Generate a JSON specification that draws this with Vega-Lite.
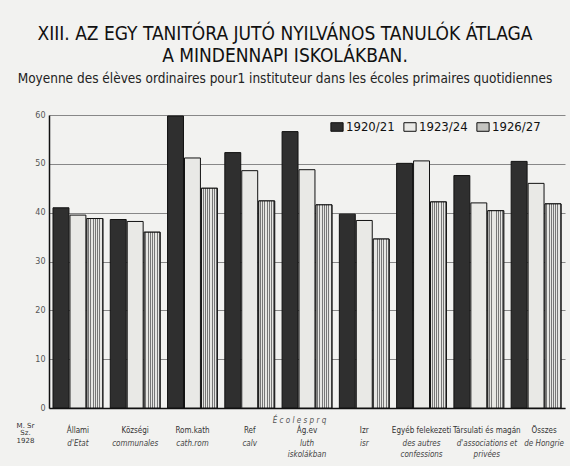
{
  "$schema": "https://vega.github.io/schema/vega-lite/v6.json",
  "autosize": "none",
  "width": 516,
  "height": 293,
  "padding": {"left": 49, "top": 115, "right": 5, "bottom": 58},
  "background": "#f2f2f0",
  "title": {
    "text": ["XIII. AZ EGY TANITÓRA JUTÓ NYILVÁNOS TANULÓK ÁTLAGA", "A MINDENNAPI ISKOLÁKBAN."],
    "subtitle": "Moyenne des élèves ordinaires pour1 instituteur dans les écoles primaires quotidiennes",
    "anchor": "middle",
    "dx": -22,
    "offset": 26,
    "font": "'DejaVu Sans Condensed', Roboto, sans-serif",
    "fontSize": 19,
    "fontWeight": "normal",
    "lineHeight": 22,
    "color": "#111",
    "subtitleFont": "'DejaVu Sans Condensed', Roboto, sans-serif",
    "subtitleFontSize": 13.5,
    "subtitleColor": "#222",
    "subtitlePadding": 6
  },
  "data": {
    "values": [
      {"school": "Állami", "year": "1920/21", "v": 41.0},
      {"school": "Állami", "year": "1923/24", "v": 39.5},
      {"school": "Állami", "year": "1926/27", "v": 38.8},
      {"school": "Községi", "year": "1920/21", "v": 38.6},
      {"school": "Községi", "year": "1923/24", "v": 38.2},
      {"school": "Községi", "year": "1926/27", "v": 36.0},
      {"school": "Rom.kath", "year": "1920/21", "v": 59.8},
      {"school": "Rom.kath", "year": "1923/24", "v": 51.2},
      {"school": "Rom.kath", "year": "1926/27", "v": 45.0},
      {"school": "Ref", "year": "1920/21", "v": 52.3},
      {"school": "Ref", "year": "1923/24", "v": 48.6},
      {"school": "Ref", "year": "1926/27", "v": 42.4},
      {"school": "Ág.ev", "year": "1920/21", "v": 56.6},
      {"school": "Ág.ev", "year": "1923/24", "v": 48.8},
      {"school": "Ág.ev", "year": "1926/27", "v": 41.6},
      {"school": "Izr", "year": "1920/21", "v": 39.7},
      {"school": "Izr", "year": "1923/24", "v": 38.4},
      {"school": "Izr", "year": "1926/27", "v": 34.6},
      {"school": "Egyéb felekezeti", "year": "1920/21", "v": 50.1},
      {"school": "Egyéb felekezeti", "year": "1923/24", "v": 50.6},
      {"school": "Egyéb felekezeti", "year": "1926/27", "v": 42.2},
      {"school": "Társulati és magán", "year": "1920/21", "v": 47.6},
      {"school": "Társulati és magán", "year": "1923/24", "v": 42.0},
      {"school": "Társulati és magán", "year": "1926/27", "v": 40.4},
      {"school": "Összes", "year": "1920/21", "v": 50.5},
      {"school": "Összes", "year": "1923/24", "v": 46.0},
      {"school": "Összes", "year": "1926/27", "v": 41.8}
    ]
  },
  "layer": [
    {
      "mark": {"type": "bar", "stroke": "#111", "strokeWidth": 1},
      "encoding": {
        "x": {
          "field": "school", "type": "nominal", "sort": null,
          "scale": {"paddingInner": 0.13, "paddingOuter": 0.07},
          "axis": {
            "orient": "bottom", "title": null, "labelAngle": 0,
            "labelFont": "'DejaVu Sans Condensed', Roboto, sans-serif", "labelFontSize": 8, "labelColor": "#333",
            "labelPadding": 18, "ticks": false,
            "labelOffset": {"condition": {"test": "datum.value === 'Társulati és magán' || datum.value === 'Összes'", "value": 8}, "value": 0},
            "domainColor": "#111", "domainWidth": 1.5, "labelLimit": 100
          }
        },
        "xOffset": {"field": "year", "type": "nominal", "scale": {"domain": ["1920/21", "1923/24", "1926/27"], "paddingInner": 0.06}},
        "y": {
          "field": "v", "type": "quantitative",
          "scale": {"domain": [0, 60], "nice": false},
          "axis": {
            "values": [0, 5, 10, 15, 20, 25, 30, 35, 40, 45, 50, 55, 60],
            "labelExpr": "datum.value % 10 === 0 ? datum.label : ''",
            "labelFont": "DejaVu Sans", "labelFontSize": 8, "labelColor": "#555",
            "labelPadding": 4, "ticks": false,
            "domainColor": "#111", "domainWidth": 1.5,
            "gridColor": "#888", "gridWidth": 1,
            "title": ["M. Sr", "Sz.", "1928"],
            "titleAngle": 0, "titleX": -24, "titleY": 306, "titleAlign": "center", "titleBaseline": "top",
            "titleFont": "DejaVu Sans", "titleFontSize": 7, "titleFontWeight": "normal", "titleColor": "#333",
            "titleLineHeight": 7.5
          }
        },
        "color": {
          "field": "year", "type": "nominal",
          "scale": {"domain": ["1920/21", "1923/24", "1926/27"], "range": ["#2f2f2f", "#e9e9e6", "#c4c4c0"]},
          "legend": {
            "title": null, "orient": "none", "legendX": 281, "legendY": 5, "direction": "horizontal",
            "symbolType": "M-1,-0.7H1V0.7H-1Z", "symbolSize": 150, "symbolStrokeColor": "#111", "symbolStrokeWidth": 1,
            "labelFont": "'DejaVu Sans Condensed', Roboto, sans-serif", "labelFontSize": 13, "labelColor": "#111",
            "columnPadding": 6, "labelOffset": 2
          }
        }
      }
    },
    {
      "transform": [{"filter": "datum.year === '1926/27'"}],
      "mark": {"type": "bar", "stroke": "#111", "strokeWidth": 1,
        "fill": {"gradient": "linear", "x1": 0, "y1": 0, "x2": 1, "y2": 0, "stops": [
          {"offset": 0, "color": "#e6e6e3"}, {"offset": 0.08, "color": "#e6e6e3"}, {"offset": 0.08, "color": "#777"}, {"offset": 0.14, "color": "#777"},
          {"offset": 0.14, "color": "#e6e6e3"}, {"offset": 0.22, "color": "#e6e6e3"}, {"offset": 0.22, "color": "#777"}, {"offset": 0.28, "color": "#777"},
          {"offset": 0.28, "color": "#e6e6e3"}, {"offset": 0.36, "color": "#e6e6e3"}, {"offset": 0.36, "color": "#777"}, {"offset": 0.42, "color": "#777"},
          {"offset": 0.42, "color": "#e6e6e3"}, {"offset": 0.50, "color": "#e6e6e3"}, {"offset": 0.50, "color": "#777"}, {"offset": 0.56, "color": "#777"},
          {"offset": 0.56, "color": "#e6e6e3"}, {"offset": 0.64, "color": "#e6e6e3"}, {"offset": 0.64, "color": "#777"}, {"offset": 0.70, "color": "#777"},
          {"offset": 0.70, "color": "#e6e6e3"}, {"offset": 0.78, "color": "#e6e6e3"}, {"offset": 0.78, "color": "#777"}, {"offset": 0.84, "color": "#777"},
          {"offset": 0.84, "color": "#e6e6e3"}, {"offset": 0.92, "color": "#e6e6e3"}, {"offset": 0.92, "color": "#777"}, {"offset": 0.98, "color": "#777"},
          {"offset": 0.98, "color": "#e6e6e3"}, {"offset": 1, "color": "#e6e6e3"}
        ]}},
      "encoding": {
        "x": {"field": "school", "type": "nominal", "sort": null, "axis": null},
        "xOffset": {"field": "year", "type": "nominal"},
        "y": {"field": "v", "type": "quantitative"}
      }
    },
    {
      "mark": {"type": "rule", "opacity": 0},
      "encoding": {
        "x": {
          "field": "school", "type": "nominal", "sort": null,
          "axis": {
            "orient": "bottom", "labelAngle": 0, "domain": false, "ticks": false, "grid": false,
            "labelExpr": "{'Állami':'d\\'Etat','Községi':'communales','Rom.kath':'cath.rom','Ref':'calv','Ág.ev':['luth','iskolákban'],'Izr':'isr','Egyéb felekezeti':['des autres','confessions'],'Társulati és magán':['d\\'associations et','privées'],'Összes':'de Hongrie'}[datum.value]",
            "labelOffset": {"condition": {"test": "datum.value === 'Társulati és magán' || datum.value === 'Összes'", "value": 8}, "value": 0},
            "labelFont": "'DejaVu Sans Condensed', Roboto, sans-serif", "labelFontStyle": "italic", "labelFontSize": 8, "labelColor": "#444",
            "labelPadding": 31, "labelLineHeight": 11, "labelLimit": 100,
            "title": "É c o l e s   p r   q",
            "titleX": 250, "titleY": 8, "titleFont": "'DejaVu Sans Condensed', Roboto, sans-serif", "titleFontStyle": "italic",
            "titleFontWeight": "normal", "titleFontSize": 8, "titleColor": "#555", "titleAlign": "center", "titleBaseline": "top"
          }
        }
      }
    }
  ],
  "resolve": {"axis": {"x": "independent"}},
  "config": {"view": {"stroke": null}}
}
